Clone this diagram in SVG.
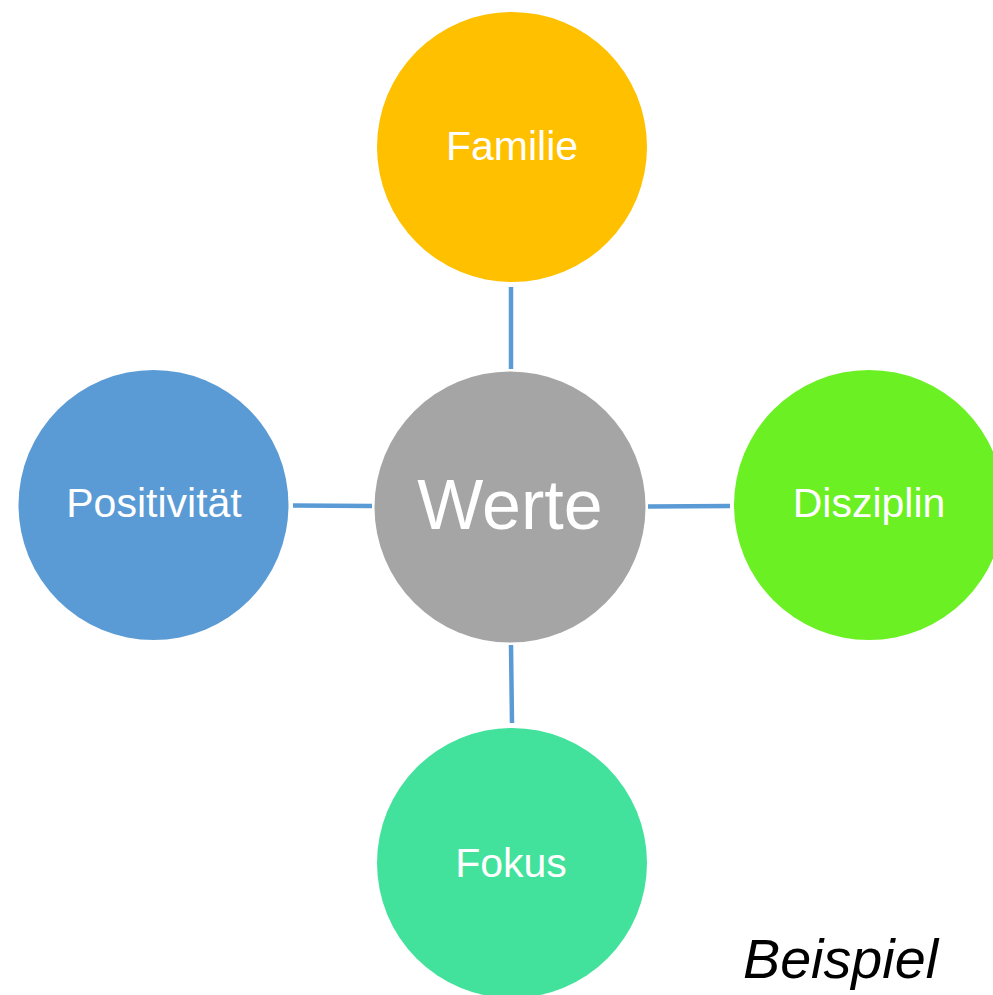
<svg xmlns="http://www.w3.org/2000/svg" width="993" height="995" viewBox="0 0 993 995">
<style>
.lbl{font-family:"Liberation Sans",Arial,sans-serif;fill:#fff;text-anchor:middle;font-size:41px}
.con{stroke:#5B9BD5;stroke-width:4.5;fill:none}
</style>
<rect width="993" height="995" fill="#fff"/>
<g id="connectors">
<line class="con" x1="511" y1="287" x2="511" y2="369"/>
<line class="con" x1="511" y1="645" x2="512" y2="723"/>
<line class="con" x1="293" y1="505.5" x2="372" y2="506"/>
<line class="con" x1="648" y1="506.5" x2="730" y2="506"/>
</g>
<g id="familie"><circle cx="512" cy="147" r="135" fill="#FFC000"/><text class="lbl" x="512" y="160">Familie</text></g>
<g id="werte"><circle cx="510" cy="507" r="135.5" fill="#A5A5A5"/><text class="lbl" x="510" y="529" style="font-size:70px">Werte</text></g>
<g id="positivitaet"><circle cx="153.5" cy="505" r="135" fill="#5B9BD5"/><text class="lbl" x="154" y="517">Positivität</text></g>
<g id="disziplin"><circle cx="869" cy="505" r="135" fill="#6AF023"/><text class="lbl" x="869" y="517">Disziplin</text></g>
<g id="fokus"><circle cx="512" cy="863" r="135" fill="#42E29C"/><text class="lbl" x="511" y="877">Fokus</text></g>
<text x="743" y="978" style="font-family:'Liberation Sans',Arial,sans-serif;font-style:italic;font-size:55px;fill:#000" textLength="195" lengthAdjust="spacingAndGlyphs">Beispiel</text>
</svg>
